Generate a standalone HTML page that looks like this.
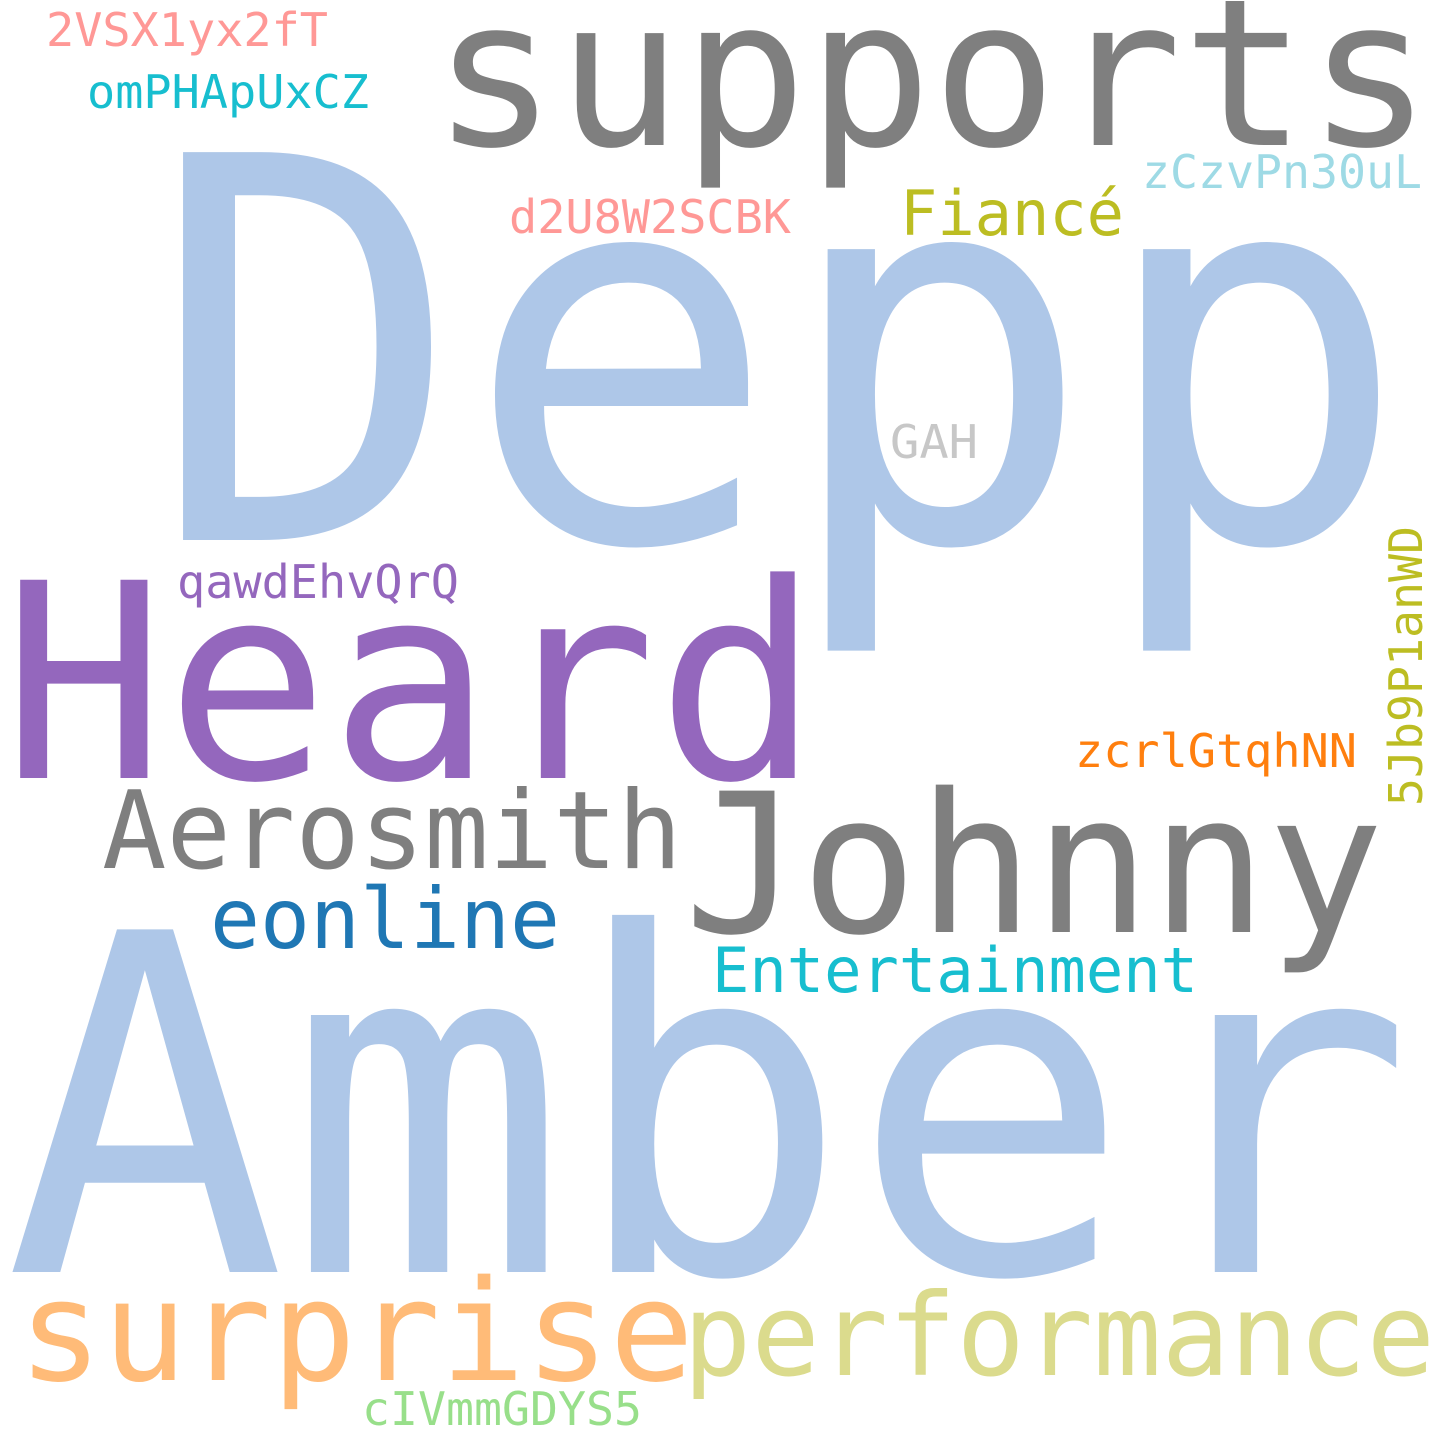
<!DOCTYPE html>
<html><head><meta charset="utf-8"><style>
html,body{margin:0;padding:0;background:#fff;}
svg{display:block}
text{font-family:"DejaVu Sans Mono","Liberation Mono",monospace;}
</style></head><body>
<svg width="1440" height="1440" viewBox="0 0 1440 1440">
<rect width="1440" height="1440" fill="#fff"/>
<text x="148" y="540" font-size="532" fill="#aec7e8" textLength="1262" lengthAdjust="spacingAndGlyphs">Depp</text>
<text x="4" y="1272" font-size="470" fill="#aec7e8" textLength="1410" lengthAdjust="spacingAndGlyphs">Amber</text>
<text x="2" y="778" font-size="272" fill="#9467bd" textLength="818" lengthAdjust="spacingAndGlyphs">Heard</text>
<text x="432" y="145" font-size="205" fill="#7f7f7f" textLength="1000" lengthAdjust="spacingAndGlyphs">supports</text>
<text x="684" y="932" font-size="194" fill="#7f7f7f" textLength="700" lengthAdjust="spacingAndGlyphs">Johnny</text>
<text x="18" y="1380" font-size="140" fill="#ffbb78" textLength="676" lengthAdjust="spacingAndGlyphs">surprise</text>
<text x="683" y="1375" font-size="114" fill="#dbdb8d" textLength="752" lengthAdjust="spacingAndGlyphs">performance</text>
<text x="102" y="868" font-size="108" fill="#7f7f7f" textLength="580" lengthAdjust="spacingAndGlyphs">Aerosmith</text>
<text x="210" y="948" font-size="84" fill="#1f77b4" textLength="350" lengthAdjust="spacingAndGlyphs">eonline</text>
<text x="712" y="992" font-size="62" fill="#17becf" textLength="486" lengthAdjust="spacingAndGlyphs">Entertainment</text>
<text x="900" y="235" font-size="62" fill="#bcbd22" textLength="224" lengthAdjust="spacingAndGlyphs">Fiancé</text>
<text x="1075" y="767" font-size="46" fill="#ff7f0e" textLength="282" lengthAdjust="spacingAndGlyphs">zcrlGtqhNN</text>
<text transform="translate(1422,806) rotate(-90)" font-size="46" fill="#bcbd22" textLength="280" lengthAdjust="spacingAndGlyphs">5Jb9P1anWD</text>
<text x="177" y="598" font-size="46" fill="#9467bd" textLength="282" lengthAdjust="spacingAndGlyphs">qawdEhvQrQ</text>
<text x="509" y="233" font-size="46" fill="#ff9896" textLength="282" lengthAdjust="spacingAndGlyphs">d2U8W2SCBK</text>
<text x="1142" y="188" font-size="46" fill="#9edae5" textLength="280" lengthAdjust="spacingAndGlyphs">zCzvPn30uL</text>
<text x="87" y="108" font-size="46" fill="#17becf" textLength="282" lengthAdjust="spacingAndGlyphs">omPHApUxCZ</text>
<text x="46" y="46" font-size="46" fill="#ff9896" textLength="282" lengthAdjust="spacingAndGlyphs">2VSX1yx2fT</text>
<text x="362" y="1425" font-size="46" fill="#98df8a" textLength="280" lengthAdjust="spacingAndGlyphs">cIVmmGDYS5</text>
<text x="890" y="458" font-size="46" fill="#c7c7c7" textLength="88" lengthAdjust="spacingAndGlyphs">GAH</text>
</svg>
</body></html>
